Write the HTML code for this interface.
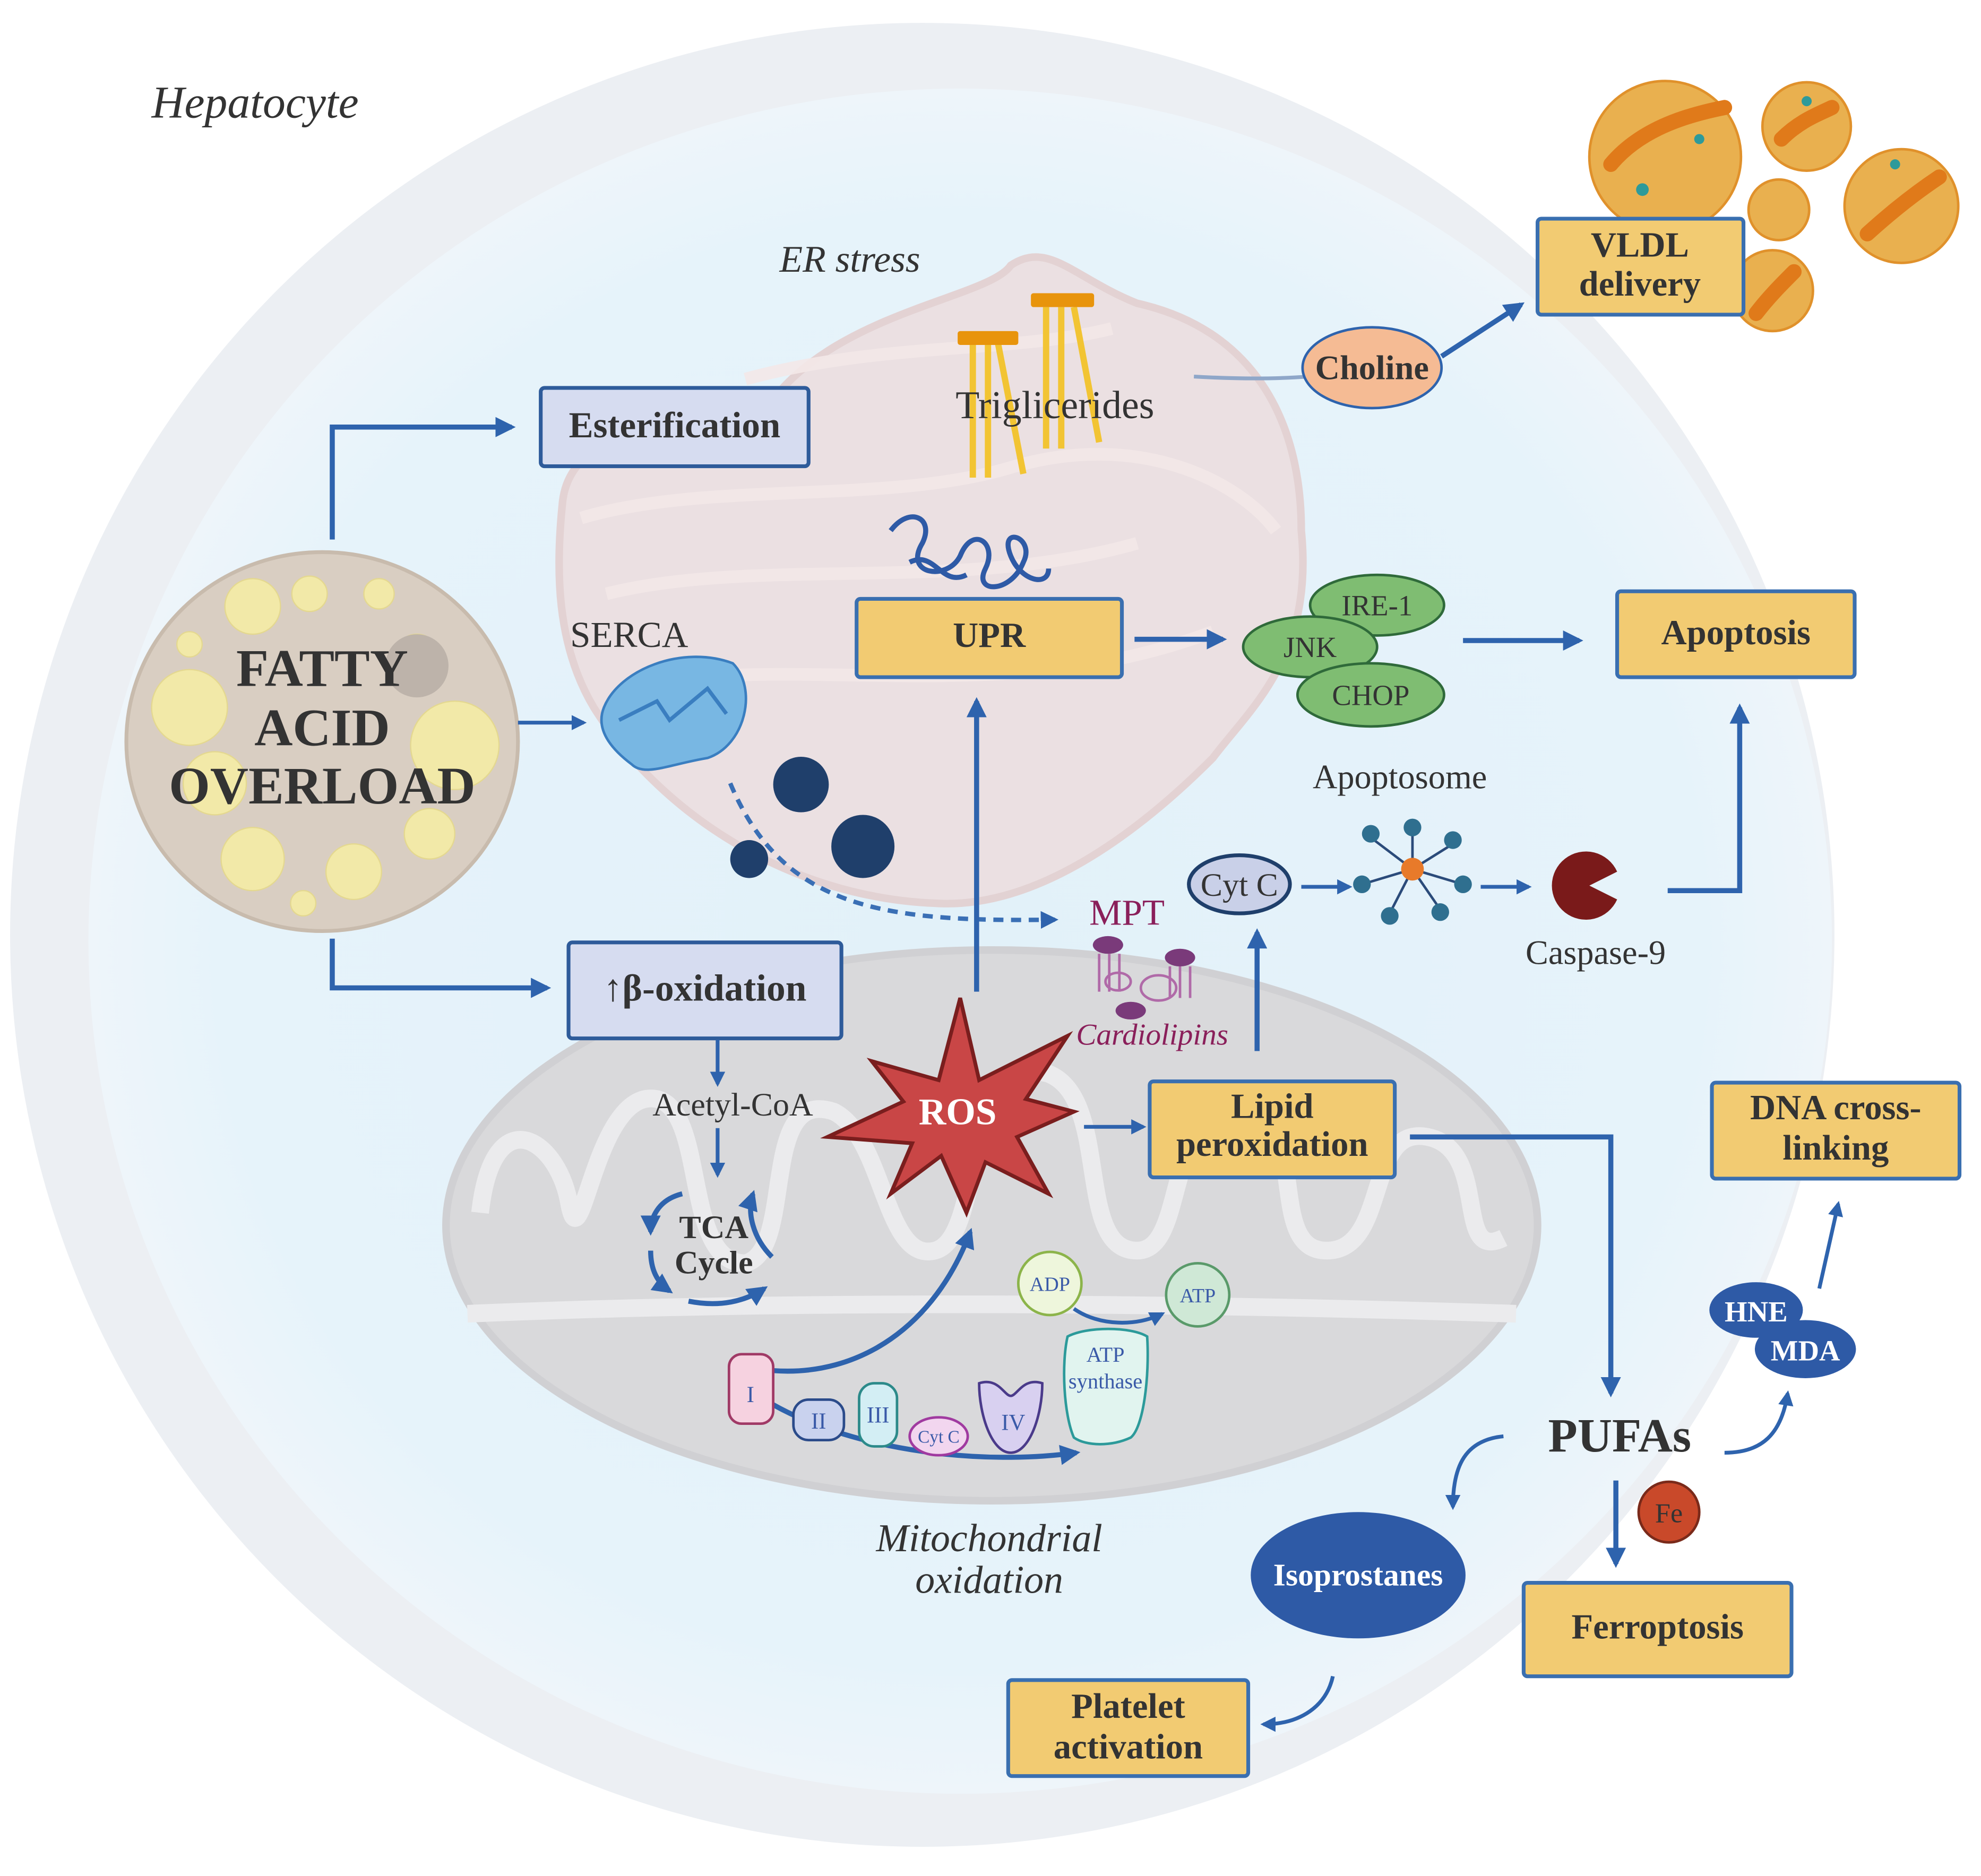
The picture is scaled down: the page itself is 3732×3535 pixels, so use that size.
<!DOCTYPE html>
<html><head><meta charset="utf-8"><style>
html,body{margin:0;padding:0;background:#fff;}
svg{display:block;}
text{font-family:"Liberation Serif","DejaVu Serif",serif;}
</style></head><body>
<svg width="3732" height="3535" viewBox="0 0 1568 1485" xmlns="http://www.w3.org/2000/svg">
<defs>
<marker id="a" viewBox="0 0 10 10" refX="8" refY="5" markerWidth="4" markerHeight="4" orient="auto"><path d="M0,0L10,5L0,10z" fill="#2e63ad"/></marker>
<radialGradient id="cell" cx="50%" cy="50%" r="50%"><stop offset="0" stop-color="#e2f1f9"/><stop offset="0.85" stop-color="#e6f3fa"/><stop offset="1" stop-color="#eef5fa"/></radialGradient>
</defs>
<rect width="1568" height="1485" fill="#fff"/>
<ellipse cx="730" cy="740" rx="722" ry="722" fill="#eceff3"/>
<ellipse cx="760" cy="745" rx="690" ry="675" fill="url(#cell)"/>
<text x="120" y="93" font-size="36" font-style="italic" fill="#333">Hepatocyte</text>

<!-- ER -->
<g fill="#ecdfe0" stroke="#e3cfcf" stroke-width="6" opacity="0.9">
<path d="M445,400 C450,330 560,330 590,360 C620,250 780,240 800,210 C830,190 850,220 900,240 C990,260 1030,330 1030,420 C1040,520 990,560 960,600 C900,660 820,720 740,715 C620,710 520,640 470,560 C440,510 440,450 445,400z"/>
</g>
<g fill="none" stroke="#f3e8e8" stroke-width="10" opacity="0.9">
<path d="M460,410 C560,380 700,400 800,370 C900,340 980,380 1010,420"/>
<path d="M480,470 C600,440 760,470 900,430"/>
<path d="M590,300 C700,270 800,280 880,260"/>
<path d="M520,540 C650,520 800,560 960,500"/>
</g>
<text x="617" y="215" font-size="30" font-style="italic" fill="#333">ER stress</text>

<!-- triglycerides -->
<g stroke="#f2c433" stroke-width="5" fill="none">
<line x1="770" y1="272" x2="770" y2="378"/><line x1="782" y1="272" x2="782" y2="378"/><line x1="790" y1="272" x2="810" y2="375"/>
<line x1="828" y1="243" x2="828" y2="355"/><line x1="840" y1="243" x2="840" y2="355"/><line x1="850" y1="243" x2="870" y2="350"/>
</g>
<rect x="758" y="262" width="48" height="11" fill="#e8940c" rx="2"/>
<rect x="816" y="232" width="50" height="11" fill="#e8940c" rx="2"/>
<text x="835" y="331" font-size="31" fill="#333" text-anchor="middle">Triglicerides</text>
<path d="M945,298 C980,300 1010,300 1035,298" stroke="#8fa7c9" stroke-width="3" fill="none"/>

<!-- protein squiggle -->
<path d="M705,420 C720,400 740,410 730,430 C715,455 750,460 760,440 C770,415 790,430 780,450 C770,470 800,470 810,445 C820,425 790,415 800,440 C808,460 830,465 830,450 M720,445 C740,435 745,465 765,455" stroke="#2e5aa6" stroke-width="4" fill="none"/>

<!-- Choline -->
<ellipse cx="1086" cy="291" rx="55" ry="32" fill="#f5bb94" stroke="#2e63ad" stroke-width="2"/>
<text x="1086" y="300" font-size="27" font-weight="bold" fill="#333" text-anchor="middle">Choline</text>
<line x1="1141" y1="282" x2="1204" y2="241" stroke="#2e63ad" stroke-width="4" marker-end="url(#a)"/>

<!-- VLDL particles -->
<g stroke="#e0912b" stroke-width="2">
<circle cx="1318" cy="124" r="60" fill="#e9b04f"/><circle cx="1430" cy="100" r="35" fill="#e9b04f"/>
<circle cx="1505" cy="163" r="45" fill="#e9b04f"/><circle cx="1408" cy="166" r="24" fill="#e9b04f"/>
<circle cx="1403" cy="230" r="32" fill="#e9b04f"/>
</g>
<g stroke="#e07a1a" stroke-width="12" fill="none" stroke-linecap="round">
<path d="M1275,130 C1300,100 1340,90 1365,85"/><path d="M1410,110 C1425,95 1440,90 1450,85"/>
<path d="M1478,185 C1500,165 1520,150 1535,140"/><path d="M1390,248 C1400,235 1410,225 1420,215"/>
</g>
<g fill="#2e9a9a"><circle cx="1300" cy="150" r="5"/><circle cx="1345" cy="110" r="4"/><circle cx="1430" cy="80" r="4"/><circle cx="1500" cy="130" r="4"/></g>
<rect x="1217" y="173" width="163" height="76" fill="#f2cb72" stroke="#3a6fb0" stroke-width="3" rx="3"/>
<text x="1298" y="203" font-size="28" font-weight="bold" fill="#333" text-anchor="middle">VLDL</text>
<text x="1298" y="234" font-size="28" font-weight="bold" fill="#333" text-anchor="middle">delivery</text>

<!-- Fatty acid cell -->
<ellipse cx="255" cy="587" rx="155" ry="150" fill="#d9cec2" stroke="#c8bbad" stroke-width="3"/>
<g fill="#f2e9a8" stroke="#e4d890" stroke-width="1">
<circle cx="200" cy="480" r="22"/><circle cx="150" cy="560" r="30"/><circle cx="360" cy="590" r="35"/><circle cx="330" cy="520" r="18"/>
<circle cx="200" cy="680" r="25"/><circle cx="280" cy="690" r="22"/><circle cx="340" cy="660" r="20"/><circle cx="245" cy="470" r="14"/>
<circle cx="170" cy="620" r="25"/><circle cx="300" cy="470" r="12"/><circle cx="240" cy="715" r="10"/><circle cx="150" cy="510" r="10"/>
</g>
<circle cx="330" cy="527" r="25" fill="#bdb3aa"/>
<g font-size="42" font-weight="bold" fill="#333" text-anchor="middle">
<text x="255" y="543">FATTY</text><text x="255" y="590">ACID</text><text x="255" y="636">OVERLOAD</text></g>

<!-- arrows from fatty acid -->
<path d="M263,427 L263,338 L405,338" stroke="#2e63ad" stroke-width="4" fill="none" marker-end="url(#a)"/>
<path d="M263,743 L263,782 L433,782" stroke="#2e63ad" stroke-width="4" fill="none" marker-end="url(#a)"/>
<line x1="410" y1="572" x2="462" y2="572" stroke="#2e63ad" stroke-width="3" marker-end="url(#a)"/>

<rect x="428" y="307" width="212" height="62" fill="#d6dcf0" stroke="#2e5b9a" stroke-width="3" rx="3"/>
<text x="534" y="346" font-size="29" font-weight="bold" fill="#333" text-anchor="middle">Esterification</text>

<!-- SERCA -->
<text x="498" y="512" font-size="29" fill="#333" text-anchor="middle">SERCA</text>
<path d="M478,560 C490,530 540,510 580,525 C600,545 590,590 560,600 C530,605 510,615 500,605 C480,590 472,575 478,560z" fill="#78b7e3" stroke="#3a7ec0" stroke-width="2"/>
<path d="M490,570 L520,555 L530,570 L560,545 L575,565" stroke="#3a7ec0" stroke-width="3" fill="none"/>

<!-- Ca -->
<circle cx="634" cy="621" r="22" fill="#1f3f6b"/>
<circle cx="683" cy="670" r="25" fill="#1f3f6b"/>
<circle cx="593" cy="680" r="15" fill="#1f3f6b"/>
<path d="M578,620 C620,720 700,730 835,728" stroke="#3a6fb5" stroke-width="3.5" stroke-dasharray="8,6" fill="none" marker-end="url(#a)"/>

<!-- UPR -->
<rect x="678" y="474" width="210" height="62" fill="#f2cb72" stroke="#3a6fb0" stroke-width="3" rx="3"/>
<text x="783" y="512" font-size="28" font-weight="bold" fill="#333" text-anchor="middle">UPR</text>
<line x1="898" y1="506" x2="968" y2="506" stroke="#2e63ad" stroke-width="4" marker-end="url(#a)"/>

<!-- IRE-1 etc -->
<ellipse cx="1090" cy="479" rx="53" ry="24" fill="#7fbd72" stroke="#2f6a3a" stroke-width="2"/>
<ellipse cx="1037" cy="512" rx="53" ry="24" fill="#7fbd72" stroke="#2f6a3a" stroke-width="2"/>
<ellipse cx="1085" cy="550" rx="58" ry="25" fill="#7fbd72" stroke="#2f6a3a" stroke-width="2"/>
<text x="1090" y="487" font-size="23" fill="#333" text-anchor="middle">IRE-1</text>
<text x="1037" y="520" font-size="23" fill="#333" text-anchor="middle">JNK</text>
<text x="1085" y="558" font-size="23" fill="#333" text-anchor="middle">CHOP</text>
<line x1="1158" y1="507" x2="1250" y2="507" stroke="#2e63ad" stroke-width="4" marker-end="url(#a)"/>

<rect x="1280" y="468" width="188" height="68" fill="#f2cb72" stroke="#3a6fb0" stroke-width="3" rx="3"/>
<text x="1374" y="510" font-size="28" font-weight="bold" fill="#333" text-anchor="middle">Apoptosis</text>

<!-- Mitochondrion -->
<ellipse cx="785" cy="970" rx="432" ry="218" fill="#d9d9db" stroke="#d0d0d3" stroke-width="6"/>
<path d="M380,960 C390,870 440,900 450,950 C460,1010 470,860 520,870 C560,880 540,1000 590,1000 C630,990 600,860 660,880 C700,900 700,1000 740,990 C780,980 760,830 830,850 C880,870 850,990 900,990 C940,990 920,880 980,880 C1040,880 1000,990 1050,990 C1100,990 1080,890 1130,900 C1180,910 1150,1000 1190,980" stroke="#ebebed" stroke-width="14" fill="none"/>
<path d="M370,1040 C600,1030 900,1030 1200,1040" stroke="#ebebed" stroke-width="14" fill="none"/>

<rect x="450" y="746" width="216" height="76" fill="#d6dcf0" stroke="#2e5b9a" stroke-width="3" rx="3"/>
<text x="558" y="792" font-size="30" font-weight="bold" fill="#333" text-anchor="middle">↑β-oxidation</text>
<line x1="568" y1="823" x2="568" y2="858" stroke="#2e63ad" stroke-width="3" marker-end="url(#a)"/>
<text x="580" y="883" font-size="26" fill="#333" text-anchor="middle">Acetyl-CoA</text>
<line x1="568" y1="893" x2="568" y2="930" stroke="#2e63ad" stroke-width="3" marker-end="url(#a)"/>
<g stroke="#2e63ad" stroke-width="4" fill="none">
<path d="M540,945 C520,950 515,965 515,975" marker-end="url(#a)"/>
<path d="M595,945 C610,960 615,980 610,995" marker-end="url(#a)" transform="rotate(180 603 970)"/>
<path d="M515,990 C515,1005 520,1015 530,1022" marker-end="url(#a)"/>
<path d="M545,1030 C570,1035 590,1030 605,1020" marker-end="url(#a)"/>
</g>
<text x="565" y="980" font-size="26" font-weight="bold" fill="#333" text-anchor="middle">TCA</text>
<text x="565" y="1008" font-size="26" font-weight="bold" fill="#333" text-anchor="middle">Cycle</text>

<!-- ROS -->
<polygon points="760,790 775,855 845,820 812,870 850,880 805,900 830,945 780,920 765,960 745,915 705,945 722,905 655,900 715,872 690,840 743,855" fill="#c94646" stroke="#7a1e1e" stroke-width="3"/>
<text x="758" y="890" font-size="30" font-weight="bold" fill="#fff" text-anchor="middle">ROS</text>
<line x1="773" y1="785" x2="773" y2="555" stroke="#2e63ad" stroke-width="4" marker-end="url(#a)"/>
<line x1="858" y1="892" x2="905" y2="892" stroke="#2e63ad" stroke-width="3" marker-end="url(#a)"/>

<!-- ETC -->
<path d="M612,1085 C680,1090 740,1050 768,975" stroke="#2e63ad" stroke-width="4" fill="none" marker-end="url(#a)"/>
<path d="M612,1112 C680,1150 780,1160 852,1150" stroke="#2e63ad" stroke-width="4" fill="none" marker-end="url(#a)"/>
<rect x="577" y="1072" width="35" height="55" rx="10" fill="#f6d2e0" stroke="#a03a66" stroke-width="2"/>
<text x="594" y="1110" font-size="18" fill="#3a5aa8" text-anchor="middle">I</text>
<rect x="628" y="1108" width="40" height="32" rx="12" fill="#c9d2ee" stroke="#2b4b8a" stroke-width="2"/>
<text x="648" y="1131" font-size="18" fill="#3a5aa8" text-anchor="middle">II</text>
<rect x="680" y="1095" width="30" height="50" rx="12" fill="#d3eef4" stroke="#2c8a8a" stroke-width="2"/>
<text x="695" y="1126" font-size="18" fill="#3a5aa8" text-anchor="middle">III</text>
<ellipse cx="743" cy="1137" rx="23" ry="15" fill="#f2d6ef" stroke="#a03aa0" stroke-width="2"/>
<text x="743" y="1142" font-size="14" fill="#3a5aa8" text-anchor="middle">Cyt C</text>
<path d="M775,1095 C790,1090 795,1105 800,1105 C805,1105 810,1090 825,1095 C825,1120 815,1150 800,1150 C785,1150 775,1120 775,1095z" fill="#d8d0f0" stroke="#4a3a8a" stroke-width="2"/>
<text x="802" y="1132" font-size="18" fill="#3a5aa8" text-anchor="middle">IV</text>
<path d="M845,1058 C860,1050 895,1050 908,1058 C910,1090 905,1130 895,1138 C880,1145 860,1145 850,1138 C842,1120 840,1080 845,1058z" fill="#e1f4ef" stroke="#2c9a9a" stroke-width="2"/>
<text x="875" y="1078" font-size="17" fill="#3a5aa8" text-anchor="middle">ATP</text>
<text x="875" y="1099" font-size="17" fill="#3a5aa8" text-anchor="middle">synthase</text>
<circle cx="831" cy="1016" r="25" fill="#eef6dc" stroke="#8cb44a" stroke-width="2"/>
<text x="831" y="1022" font-size="16" fill="#3a5aa8" text-anchor="middle">ADP</text>
<circle cx="948" cy="1025" r="25" fill="#cfe8d6" stroke="#5a9a6a" stroke-width="2"/>
<text x="948" y="1031" font-size="16" fill="#3a5aa8" text-anchor="middle">ATP</text>
<path d="M850,1036 C870,1050 900,1050 920,1040" stroke="#2e63ad" stroke-width="3" fill="none" marker-end="url(#a)"/>
<text x="783" y="1228" font-size="31" font-style="italic" fill="#333" text-anchor="middle">Mitochondrial</text>
<text x="783" y="1261" font-size="31" font-style="italic" fill="#333" text-anchor="middle">oxidation</text>

<!-- MPT -->
<text x="892" y="732" font-size="29" fill="#8a1f5a" text-anchor="middle">MPT</text>
<g fill="#7a3a7a"><ellipse cx="877" cy="748" rx="12" ry="7"/><ellipse cx="934" cy="758" rx="12" ry="7"/><ellipse cx="895" cy="800" rx="12" ry="7"/></g>
<g stroke="#b06aa8" stroke-width="2" fill="none">
<path d="M870,755 v30 M878,755 v30 M886,755 v30 M926,765 v25 M934,765 v25 M942,765 v25"/>
<ellipse cx="885" cy="777" rx="10" ry="7"/><ellipse cx="917" cy="782" rx="14" ry="10"/></g>
<text x="912" y="827" font-size="24" font-style="italic" fill="#8a1f5a" text-anchor="middle">Cardiolipins</text>
<line x1="995" y1="832" x2="995" y2="738" stroke="#2e63ad" stroke-width="4" marker-end="url(#a)"/>

<ellipse cx="981" cy="700" rx="40" ry="23" fill="#c9d0e8" stroke="#1f3f6b" stroke-width="3"/>
<text x="981" y="709" font-size="26" fill="#333" text-anchor="middle">Cyt C</text>
<line x1="1030" y1="702" x2="1068" y2="702" stroke="#2e63ad" stroke-width="3" marker-end="url(#a)"/>
<text x="1108" y="624" font-size="27" fill="#333" text-anchor="middle">Apoptosome</text>
<g stroke="#2b4b7a" stroke-width="2">
<line x1="1118" y1="688" x2="1118" y2="655"/><line x1="1118" y1="688" x2="1150" y2="668"/><line x1="1118" y1="688" x2="1158" y2="700"/>
<line x1="1118" y1="688" x2="1140" y2="720"/><line x1="1118" y1="688" x2="1100" y2="723"/><line x1="1118" y1="688" x2="1078" y2="700"/>
<line x1="1118" y1="688" x2="1085" y2="663"/></g>
<g fill="#2f6f8f"><circle cx="1118" cy="655" r="7"/><circle cx="1150" cy="665" r="7"/><circle cx="1158" cy="700" r="7"/><circle cx="1140" cy="722" r="7"/><circle cx="1100" cy="725" r="7"/><circle cx="1078" cy="700" r="7"/><circle cx="1085" cy="660" r="7"/></g>
<circle cx="1118" cy="688" r="9" fill="#e87a2a"/>
<line x1="1172" y1="702" x2="1210" y2="702" stroke="#2e63ad" stroke-width="3" marker-end="url(#a)"/>
<path d="M1280,690 A27,27 0 1,0 1280,712 L1258,701z" fill="#7a1a1a"/>
<text x="1263" y="763" font-size="27" fill="#333" text-anchor="middle">Caspase-9</text>
<path d="M1320,705 L1377,705 L1377,560" stroke="#2e63ad" stroke-width="4" fill="none" marker-end="url(#a)"/>

<!-- Lipid peroxidation -->
<rect x="910" y="856" width="194" height="76" fill="#f2cb72" stroke="#3a6fb0" stroke-width="3" rx="3"/>
<text x="1007" y="885" font-size="28" font-weight="bold" fill="#333" text-anchor="middle">Lipid</text>
<text x="1007" y="915" font-size="28" font-weight="bold" fill="#333" text-anchor="middle">peroxidation</text>
<path d="M1116,900 L1275,900 L1275,1103" stroke="#2e63ad" stroke-width="4" fill="none" marker-end="url(#a)"/>

<rect x="1355" y="857" width="196" height="76" fill="#f2cb72" stroke="#3a6fb0" stroke-width="3" rx="3"/>
<text x="1453" y="886" font-size="28" font-weight="bold" fill="#333" text-anchor="middle">DNA cross-</text>
<text x="1453" y="918" font-size="28" font-weight="bold" fill="#333" text-anchor="middle">linking</text>
<line x1="1440" y1="1020" x2="1455" y2="953" stroke="#2e63ad" stroke-width="3" marker-end="url(#a)"/>

<ellipse cx="1390" cy="1037" rx="37" ry="22" fill="#2e5aa6"/>
<ellipse cx="1429" cy="1068" rx="40" ry="23" fill="#2e5aa6"/>
<text x="1390" y="1046" font-size="23" font-weight="bold" fill="#fff" text-anchor="middle">HNE</text>
<text x="1429" y="1077" font-size="23" font-weight="bold" fill="#fff" text-anchor="middle">MDA</text>

<text x="1282" y="1149" font-size="38" font-weight="bold" fill="#333" text-anchor="middle">PUFAs</text>
<path d="M1365,1150 C1395,1150 1410,1135 1415,1103" stroke="#2e63ad" stroke-width="3" fill="none" marker-end="url(#a)"/>
<path d="M1190,1137 C1160,1140 1150,1160 1150,1193" stroke="#2e63ad" stroke-width="3" fill="none" marker-end="url(#a)"/>
<line x1="1279" y1="1172" x2="1279" y2="1238" stroke="#2e63ad" stroke-width="4" marker-end="url(#a)"/>
<circle cx="1321" cy="1197" r="24" fill="#c9492a" stroke="#7a2a1a" stroke-width="2"/>
<text x="1321" y="1205" font-size="22" fill="#333" text-anchor="middle">Fe</text>

<rect x="1206" y="1253" width="212" height="74" fill="#f2cb72" stroke="#3a6fb0" stroke-width="3" rx="3"/>
<text x="1312" y="1297" font-size="28" font-weight="bold" fill="#333" text-anchor="middle">Ferroptosis</text>

<ellipse cx="1075" cy="1247" rx="85" ry="50" fill="#2e5aa6"/>
<text x="1075" y="1255" font-size="25" font-weight="bold" fill="#fff" text-anchor="middle">Isoprostanes</text>
<path d="M1055,1327 C1050,1350 1030,1365 1000,1365" stroke="#2e63ad" stroke-width="3" fill="none" marker-end="url(#a)"/>

<rect x="798" y="1330" width="190" height="76" fill="#f2cb72" stroke="#3a6fb0" stroke-width="3" rx="3"/>
<text x="893" y="1360" font-size="28" font-weight="bold" fill="#333" text-anchor="middle">Platelet</text>
<text x="893" y="1392" font-size="28" font-weight="bold" fill="#333" text-anchor="middle">activation</text>
</svg>
</body></html>
